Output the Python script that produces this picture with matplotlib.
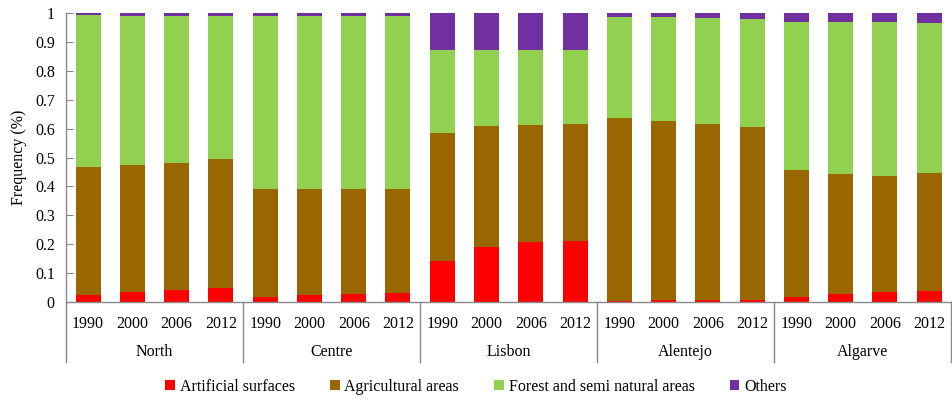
import matplotlib
matplotlib.use("Agg")
import matplotlib.pyplot as plt
import numpy as np
from matplotlib.ticker import FuncFormatter
from matplotlib.transforms import blended_transform_factory

plt.rcParams['font.family'] = ['Liberation Serif', 'DejaVu Serif']

regions = ["North", "Centre", "Lisbon", "Alentejo", "Algarve"]
years = ["1990", "2000", "2006", "2012"]
series_names = ["Artificial surfaces", "Agricultural areas",
                "Forest and semi natural areas", "Others"]
colors = ["#FF0000", "#996600", "#92D050", "#7030A0"]

# shares per bar (region x year order)
artificial = [0.024, 0.036, 0.042, 0.048,
              0.018, 0.025, 0.028, 0.031,
              0.143, 0.191, 0.208, 0.211,
              0.004, 0.006, 0.008, 0.008,
              0.018, 0.029, 0.036, 0.038]
agricultural = [0.444, 0.440, 0.440, 0.446,
                0.372, 0.365, 0.362, 0.359,
                0.441, 0.418, 0.406, 0.407,
                0.634, 0.621, 0.609, 0.599,
                0.439, 0.414, 0.401, 0.407]
forest = [0.525, 0.515, 0.509, 0.497,
          0.601, 0.601, 0.601, 0.601,
          0.288, 0.265, 0.260, 0.254,
          0.349, 0.360, 0.366, 0.373,
          0.513, 0.526, 0.531, 0.521]
others = [0.007, 0.009, 0.009, 0.009,
          0.009, 0.009, 0.009, 0.009,
          0.128, 0.126, 0.126, 0.128,
          0.013, 0.013, 0.017, 0.020,
          0.030, 0.031, 0.032, 0.034]

data = [artificial, agricultural, forest, others]

fig = plt.figure(figsize=(9.52, 3.99), dpi=100)
ax = fig.add_axes([0.0693, 0.243, 0.93, 0.724])

n = len(regions) * len(years)
x = np.arange(n)
bottom = np.zeros(n)
handles = []
for vals, c, name in zip(data, colors, series_names):
    vals = np.array(vals)
    h = ax.bar(x, vals, width=0.565, bottom=bottom, color=c, label=name,
               edgecolor='none', zorder=2)
    handles.append(h)
    bottom += vals

ax.set_xlim(-0.5, n - 0.5)
ax.set_ylim(0, 1)
ax.set_yticks(np.arange(0, 1.01, 0.1))
ax.yaxis.set_major_formatter(FuncFormatter(lambda v, p: f"{v:.1f}".rstrip('0').rstrip('.') if v else "0"))
ax.tick_params(axis='y', direction='in', length=5, color='#888888', labelsize=11.5, pad=8)
ax.set_xticks(x)
ax.set_xticklabels(years * len(regions), fontsize=11.5)
ax.tick_params(axis='x', length=0, pad=10)

for s in ['top', 'right']:
    ax.spines[s].set_visible(False)
for s in ['left', 'bottom']:
    ax.spines[s].set_color('#888888')
    ax.spines[s].set_linewidth(1.0)

ax.set_ylabel("Frequency (%)", fontsize=11.5, labelpad=6)

trans = blended_transform_factory(ax.transData, ax.transAxes)
for i in range(len(regions) + 1):
    xb = -0.5 + i * len(years)
    ax.plot([xb, xb], [0, -0.208], transform=trans, color='#888888',
            linewidth=1.0, clip_on=False)
for i, r in enumerate(regions):
    xc = i * len(years) + (len(years) - 1) / 2
    ax.text(xc, -0.173, r, transform=trans, ha='center', va='center', fontsize=11.5)

fig.legend(handles=handles, labels=series_names, loc='center', ncol=4,
           bbox_to_anchor=(0.5, 0.03), frameon=False, fontsize=11.5,
           handlelength=0.6, handleheight=0.6, handletextpad=0.3, columnspacing=2.2)

fig.savefig("out.png", dpi=100)
